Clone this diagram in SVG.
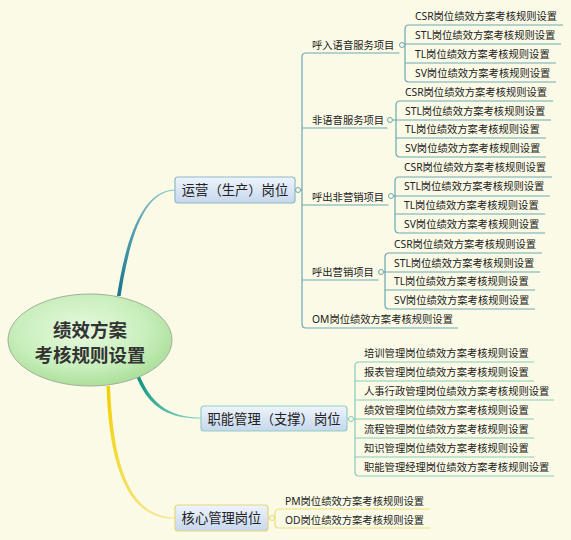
<svg xmlns="http://www.w3.org/2000/svg" width="571" height="540" viewBox="0 0 571 540">
<defs>
<radialGradient id="gEll" cx="0.45" cy="0.4" r="0.65">
<stop offset="0" stop-color="#e6f9df"/>
<stop offset="0.6" stop-color="#c9efbd"/>
<stop offset="1" stop-color="#a6dc94"/>
</radialGradient>
<linearGradient id="gBox" x1="0" y1="0" x2="0" y2="1">
<stop offset="0" stop-color="#eef4fc"/>
<stop offset="1" stop-color="#c6d7ee"/>
</linearGradient>
<linearGradient id="gC1" gradientUnits="userSpaceOnUse" x1="117" y1="296" x2="175" y2="190">
<stop offset="0" stop-color="#14768c"/>
<stop offset="1" stop-color="#8cc3cd"/>
</linearGradient>
<linearGradient id="gC2" gradientUnits="userSpaceOnUse" x1="140" y1="374" x2="201" y2="418">
<stop offset="0" stop-color="#0c9580"/>
<stop offset="1" stop-color="#90d8c8"/>
</linearGradient>
<linearGradient id="gC3" gradientUnits="userSpaceOnUse" x1="110" y1="386" x2="175" y2="518">
<stop offset="0" stop-color="#f2d000"/>
<stop offset="1" stop-color="#f4e68c"/>
</linearGradient>
<style>
text{font-family:"Noto Sans","Noto Sans CJK SC",sans-serif;fill:#222}
.t{font-size:10.3px}
.n1{font-size:13.3px;text-anchor:middle}
.c{font-size:18.5px;font-weight:bold;fill:#333;text-anchor:middle}
.a{fill:none;stroke:#6ca7b3;stroke-width:1.2}
.b{fill:none;stroke:#88cbbd;stroke-width:1.2}
.y{fill:none;stroke:#efe07a;stroke-width:1.2}
.da{fill:#fafae6;stroke:#6ca7b3;stroke-width:1}
.db{fill:#fafae6;stroke:#88cbbd;stroke-width:1}
.dy{fill:#fafae6;stroke:#e6d676;stroke-width:1}
.box{fill:url(#gBox);stroke-width:1.2}
</style>
</defs>
<rect width="571" height="540" fill="#fafae6"/>

<g id="connectors">
<path d="M117,296 C125,245 140,190 175,189.4 L175,190.6 C141.5,191.2 128.5,246 120.6,296 Z" fill="url(#gC1)"/>
<path d="M139,374 C150,401 166,417.4 201,417.4 L201,418.6 C164,419 147,403 136,376 Z" fill="url(#gC2)"/>
<path d="M110,386 C113,461 128,517.4 175,517.4 L175,518.6 C126,519.5 109,463 106.5,386 Z" fill="url(#gC3)"/>

<!-- group 1 level-1 spine -->
<path class="a" d="M295,190 H302 M399.5,53 H306 Q302,53 302,57 V324 Q302,328 306,328 H458 M302,128 H387.5 M302,205 H388.5 M302,280 H378.5"/>
<!-- 1a -->
<path class="a" d="M404.5,45 H405 M563,25 H409 Q405,25 405,29 V78 Q405,82 409,82 H556 M405,44 H561 M405,63 H556"/>
<!-- 1b -->
<path class="a" d="M392.5,120 H396 M553,101 H400 Q396,101 396,105 V153 Q396,157 400,157 H546 M396,120 H551 M396,138 H546"/>
<!-- 1c -->
<path class="a" d="M393.5,196 H395 M552,177 H399 Q395,177 395,181 V229 Q395,233 399,233 H545 M395,196 H550 M395,214 H545"/>
<!-- 1d -->
<path class="a" d="M383.5,272 H385 M542,253 H389 Q385,253 385,257 V305 Q385,309 389,309 H535 M385,272 H540 M385,290 H535"/>
<!-- group 2 -->
<path class="b" d="M347,419 H355 M534,362 H359 Q355,362 355,366 V472 Q355,476 359,476 H554 M355,381 H534 M355,400 H554 M355,419 H534 M355,438 H534 M355,457 H534"/>
<!-- group 3 -->
<path class="y" d="M268,518 H275 M430,509 H279 Q275,509 275,513 V524 Q275,528 279,528 H430"/>
</g>

<g id="root">
<ellipse cx="90" cy="340" rx="82" ry="46" fill="url(#gEll)" stroke="#a3ae9e" stroke-width="1"/>
<text class="c" x="90" y="337">绩效方案</text>
<text class="c" x="90" y="362">考核规则设置</text>
</g>

<g id="n-yunying">
<rect class="box" x="175" y="177" width="120" height="26" rx="3" stroke="#8fb9c8"/>
<text class="n1" x="235" y="195">运营（生产）岗位</text>
<circle class="da" cx="298" cy="190" r="2.5"/>
</g>
<g id="n-huru">
<text class="t" x="312" y="49">呼入语音服务项目</text>
<circle class="da" cx="402" cy="45" r="2.5"/>
</g>
<g id="n-huru-leaves">
<text class="t" x="415" y="20">CSR岗位绩效方案考核规则设置</text>
<text class="t" x="415" y="39">STL岗位绩效方案考核规则设置</text>
<text class="t" x="415" y="58">TL岗位绩效方案考核规则设置</text>
<text class="t" x="415" y="77">SV岗位绩效方案考核规则设置</text>
</g>
<g id="n-feiyuyin">
<text class="t" x="312" y="124">非语音服务项目</text>
<circle class="da" cx="390" cy="120" r="2.5"/>
</g>
<g id="n-feiyuyin-leaves">
<text class="t" x="405" y="96">CSR岗位绩效方案考核规则设置</text>
<text class="t" x="405" y="115">STL岗位绩效方案考核规则设置</text>
<text class="t" x="405" y="133">TL岗位绩效方案考核规则设置</text>
<text class="t" x="405" y="152">SV岗位绩效方案考核规则设置</text>
</g>
<g id="n-huchufei">
<text class="t" x="312" y="201">呼出非营销项目</text>
<circle class="da" cx="391" cy="196" r="2.5"/>
</g>
<g id="n-huchufei-leaves">
<text class="t" x="404" y="171">CSR岗位绩效方案考核规则设置</text>
<text class="t" x="404" y="190">STL岗位绩效方案考核规则设置</text>
<text class="t" x="404" y="209">TL岗位绩效方案考核规则设置</text>
<text class="t" x="404" y="228">SV岗位绩效方案考核规则设置</text>
</g>
<g id="n-huchu">
<text class="t" x="312" y="276">呼出营销项目</text>
<circle class="da" cx="381" cy="272" r="2.5"/>
</g>
<g id="n-huchu-leaves">
<text class="t" x="394" y="248">CSR岗位绩效方案考核规则设置</text>
<text class="t" x="394" y="267">STL岗位绩效方案考核规则设置</text>
<text class="t" x="394" y="285">TL岗位绩效方案考核规则设置</text>
<text class="t" x="394" y="304">SV岗位绩效方案考核规则设置</text>
</g>
<g id="n-om">
<text class="t" x="312" y="323">OM岗位绩效方案考核规则设置</text>
</g>

<g id="n-zhineng">
<rect class="box" x="201" y="406" width="146" height="25" rx="3" stroke="#8fcfc2"/>
<text class="n1" x="274" y="423.5">职能管理（支撑）岗位</text>
<circle class="db" cx="351" cy="419" r="2.5"/>
</g>
<g id="n-zhineng-leaves">
<text class="t" x="364" y="357">培训管理岗位绩效方案考核规则设置</text>
<text class="t" x="364" y="376">报表管理岗位绩效方案考核规则设置</text>
<text class="t" x="364" y="395">人事行政管理岗位绩效方案考核规则设置</text>
<text class="t" x="364" y="414">绩效管理岗位绩效方案考核规则设置</text>
<text class="t" x="364" y="433">流程管理岗位绩效方案考核规则设置</text>
<text class="t" x="364" y="452">知识管理岗位绩效方案考核规则设置</text>
<text class="t" x="364" y="471">职能管理经理岗位绩效方案考核规则设置</text>
</g>

<g id="n-hexin">
<rect class="box" x="175" y="505" width="93" height="26" rx="3" stroke="#e6d67a"/>
<text class="n1" x="221.5" y="523">核心管理岗位</text>
<circle class="dy" cx="272" cy="518" r="2.5"/>
</g>
<g id="n-hexin-leaves">
<text class="t" x="285" y="505">PM岗位绩效方案考核规则设置</text>
<text class="t" x="285" y="524">OD岗位绩效方案考核规则设置</text>
</g>
</svg>
